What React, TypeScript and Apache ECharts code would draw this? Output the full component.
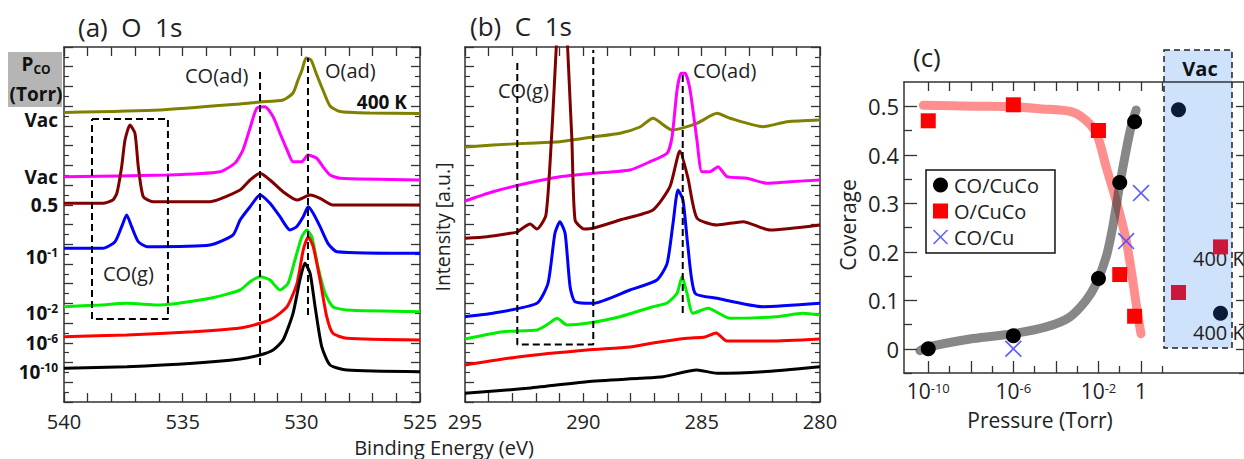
import React, { useEffect, useRef } from "react";
import * as echarts from "echarts";

const FONT = "'Open Sans', 'Noto Sans', sans-serif";

// ---------- (a) O 1s spectra: [binding energy (eV), intensity (a.u.)]
const o1sVac400K = [[540,289.5],[535.95,292],[532.58,298],[531.74,300],[530.77,302],[530.35,309],[530.14,322],[529.97,332],[529.8,344],[529.59,342],[529.38,329],[529.09,312],[528.79,296],[528.37,290.5],[527.11,289],[525,288.5]];
const o1sVac = [[540,225.3],[535.66,227],[533.43,230.3],[532.79,239],[532.46,252],[532.16,274],[531.88,293.7],[531.53,295.3],[531.19,285.3],[530.9,268.7],[530.6,252],[530.35,240.3],[529.98,240.3],[529.72,247],[529.35,243.7],[529.09,235.3],[528.79,227],[528.37,223.7],[525,222]];
const o1s0p5 = [[540,198.7],[538.36,198.7],[537.94,202],[537.77,209],[537.57,235.3],[537.43,262],[537.22,277],[537.01,268.7],[536.87,235.3],[536.66,205.3],[536.25,200.3],[533.85,200.3],[532.58,212],[532.16,222],[531.74,228.7],[531.32,222],[530.77,210.3],[530.18,202],[529.63,207],[529.21,203.7],[528.67,197],[525,197]];
const o1sE1 = [[540,153.7],[538.36,153.7],[537.85,160.3],[537.57,175.3],[537.36,187],[537.15,175.3],[536.87,160.3],[536.5,155.3],[533.85,157],[532.88,167],[532.58,182],[532.16,195.3],[531.74,207],[531.32,198.7],[530.9,185.3],[530.48,172],[530.2,175.3],[529.92,185.3],[529.71,195.3],[529.5,188.7],[529.21,175.3],[528.88,158.7],[528.5,150.3],[525,148.7]];
const o1sE2 = [[540,95.3],[538.48,97],[537.35,98.7],[535.95,97],[533.85,103.7],[532.58,112],[532.16,120.3],[531.74,125.3],[531.32,122],[530.9,112],[530.56,118.7],[530.27,142],[529.98,165.3],[529.77,172],[529.56,165.3],[529.3,135.3],[529,108.7],[528.67,95.3],[528.08,92],[525,90.3]];
const o1sE6 = [[540,65.3],[537.35,67],[534.56,70.3],[532.58,74],[531.74,78.7],[531.19,83.7],[530.6,95.3],[530.18,118.7],[529.92,152],[529.71,165.3],[529.5,155.3],[529.21,122],[528.93,85.3],[528.67,68.7],[528.08,63.7],[525,62]];
const o1sE10 = [[540,33.7],[537.35,35.3],[534.56,38.7],[532.58,43],[531.74,47],[531.19,52],[530.77,62],[530.35,88.7],[530.06,122],[529.85,138.7],[529.63,128.7],[529.42,95.3],[529.14,55.3],[528.79,37],[528.08,32],[525,30.3]];

// ---------- (b) C 1s spectra
const c1sVac400K = [[295,255],[293.82,257],[292.38,258.7],[290.99,260.3],[289.59,265],[288.45,268.7],[287.61,275],[287.06,283.7],[286.25,272],[285.2,278.7],[284.35,288.7],[283.8,283.7],[282.41,275.3],[281.39,280.3],[280,282]];
const c1sVac = [[295,201],[293.82,210.3],[292.38,218.7],[290.99,225.3],[289.59,228.7],[288.03,232],[287.18,240.3],[286.46,248.7],[286.25,265.3],[286.04,312],[285.87,328.7],[285.7,328.7],[285.49,312],[285.2,262],[284.99,230.3],[284.65,230.3],[284.31,235.3],[283.93,225.3],[283.08,223.7],[282.24,218.7],[281.27,220.3],[280,222]];
const c1s0p5 = [[295,163.7],[294.07,165.3],[293.1,168.7],[292.8,170],[292.25,178],[291.96,173],[291.58,187],[291.34,266],[290.9,442],[290.49,266],[290.35,182],[289.97,173],[289.59,173.7],[288.45,182],[287.06,192],[286.34,215.3],[285.92,251],[285.58,224],[285.2,184],[284.35,177],[283.25,180.3],[282.11,172],[280,177]];
const c1sE1 = [[295,85.3],[293.82,88.7],[291.96,98.7],[291.49,119],[291.2,168.7],[290.99,180.3],[290.77,168.7],[290.56,115.3],[290.35,100.3],[289.59,98.7],[288.03,112],[286.89,122],[286.46,138.7],[286.21,178.7],[286,212],[285.79,202],[285.58,155.3],[285.28,108.7],[284.35,103.7],[282.41,95.3],[280,98.7]];
const c1sE2 = [[295,63],[293.39,70.3],[291.96,72],[291.49,78],[291.11,83.7],[290.69,77],[289.85,78.7],[288.45,85.3],[287.06,95.3],[286.46,99],[286.04,108.7],[285.83,125.3],[285.62,108.7],[285.37,88.7],[284.73,93.7],[283.8,83.7],[281.82,85.3],[280.72,88.7],[280,87]];
const c1sE6 = [[295,37],[292.68,45.3],[289.85,52],[288.03,55],[287.06,59],[285.62,63.7],[284.86,65],[284.39,69],[283.93,61],[282.11,61],[280,63]];
const c1sE10 = [[295,8.7],[292.38,13.7],[289.85,20.3],[287.61,23.7],[286.63,25.3],[285.2,32],[284.35,28.7],[282.41,30.3],[280,35.3]];

const spectraColors = ["#808000", "#ff00ff", "#800000", "#0000ff", "#00ee00", "#ff0000", "#000000"];
const pressureLabels = ["Vac", "Vac", "0.5", "10^-1", "10^-2", "10^-6", "10^-10"];

// dashed guide lines (data coordinates)
const o1sCOadLine = [[531.74,37],[531.74,332]];
const o1sOadLine = [[529.72,87],[529.72,344]];
const o1sCOgBox = [[538.82,283],[535.62,283],[535.62,83],[538.82,83],[538.82,283]];
const c1sCOgBox = [[292.79,339],[292.79,57.5],[289.58,57.5],[289.58,352]];
const c1sCOadLine = [[285.8,89],[285.8,329]];

// ---------- (c) coverage vs pressure
const pressureTorr = [1e-10, 1e-6, 1e-2, 0.1, 0.5];
const coOnCuCo = [0.0, 0.027, 0.145, 0.343, 0.468];
const oOnCuCo = [0.47, 0.503, 0.45, 0.153, 0.067];
const coCuPressure = [1e-6, 0.2, 1];
const coOnCu = [0.0, 0.222, 0.321];
const coFitLogP = [-10.39,-10.07,-7.89,-6.02,-4.45,-3.36,-2.58,-2.11,-1.64,-1.33,-1.02,-0.7,-0.47,-0.23];
const coFit = [-0.004,0.003,0.021,0.031,0.045,0.065,0.1,0.134,0.189,0.251,0.333,0.409,0.457,0.492];
const oFitLogP = [-10.23,-7.89,-6.02,-4.77,-3.21,-2.42,-2.03,-1.64,-1.17,-0.7,-0.39,-0.16,0];
const oFit = [0.502,0.5,0.499,0.495,0.488,0.464,0.437,0.375,0.306,0.224,0.141,0.072,0.031];
const vacConditions = ["Vac", "Vac 400 K"];
const vacCO = [0.493, 0.073];
const vacO = [0.116, 0.21];
const coverageTicks = [0, 0.1, 0.2, 0.3, 0.4, 0.5];
const coverageMinorTicks = [-0.05, 0.05, 0.15, 0.25, 0.35, 0.45];
const logTicksMajor = [-10, -8, -6, -4, -2, 0];
const logTicksMinor = [-9, -7, -5, -3, -1, 1];
const logTickLabels = [-10, -6, -2, 0];

const X_SYMBOL = "path://M0,0.7L0.7,0L5,4.3L9.3,0L10,0.7L5.7,5L10,9.3L9.3,10L5,5.7L0.7,10L0,9.3L4.3,5Z";
const AXIS_COLOR = "#333";
const SPEC_MAX = 355;
const SPEC_INT = SPEC_MAX / 18;

function specLabelRich(s: string) {
  const i = s.indexOf("^");
  return i < 0 ? `{b|${s}}` : `{b|${s.slice(0, i)}}{s|${s.slice(i + 1)}}`;
}

export default function App() {
  const ref = useRef<HTMLDivElement>(null);
  useEffect(() => {
    if (!ref.current) return;
    const chart = echarts.init(ref.current, undefined, { renderer: "svg" });

    const specX = (grid: number, min: number, max: number, pos: "top" | "bottom", labels: boolean) => ({
      type: "value", gridIndex: grid, min, max, inverse: true, interval: 1, position: pos,
      axisLine: { onZero: false, lineStyle: { color: AXIS_COLOR, width: 1.5 } },
      axisTick: { inside: true, length: 9, lineStyle: { color: AXIS_COLOR, width: 1.3 } },
      axisLabel: labels ? {
        show: true, margin: 9, fontSize: 20, lineHeight: 20, fontFamily: FONT, color: "#222",
        formatter: (v: number) => (Math.round(v) % 5 === 0 ? String(Math.round(v)) : ""),
      } : { show: false },
      splitLine: { show: false },
    });
    const specY = (grid: number, pos: "left" | "right") => ({
      type: "value", gridIndex: grid, min: 0, max: SPEC_MAX, interval: SPEC_INT, position: pos,
      axisLine: { show: true, onZero: false, lineStyle: { color: AXIS_COLOR, width: 1.5 } },
      axisTick: { show: true, inside: true, length: 9, lineStyle: { color: AXIS_COLOR, width: 1.3 } },
      minorTick: { show: true, splitNumber: 2, length: 5, lineStyle: { color: AXIS_COLOR, width: 1.2 } },
      axisLabel: { show: false },
      splitLine: { show: false },
      minorSplitLine: { show: false },
    });
    const covXBase = { type: "value", gridIndex: 2, min: -11.14, max: 4.84, splitLine: { show: false } };
    const covYBase = { type: "value", gridIndex: 2, min: -0.05, max: 0.55, splitLine: { show: false } };

    const o1s = [o1sVac400K, o1sVac, o1s0p5, o1sE1, o1sE2, o1sE6, o1sE10];
    const c1s = [c1sVac400K, c1sVac, c1s0p5, c1sE1, c1sE2, c1sE6, c1sE10];
    const specSeries: any[] = [];
    o1s.forEach((d, i) => specSeries.push({
      type: "line", name: "O1s " + pressureLabels[i] + i, xAxisIndex: 0, yAxisIndex: 0, data: d,
      showSymbol: false, smooth: 0.2, lineStyle: { color: spectraColors[i], width: 3 }, silent: true,
    }));
    c1s.forEach((d, i) => specSeries.push({
      type: "line", name: "C1s " + pressureLabels[i] + i, xAxisIndex: 2, yAxisIndex: 2, data: d,
      showSymbol: false, smooth: 0.2, clip: true, lineStyle: { color: spectraColors[i], width: 3 }, silent: true,
    }));
    const dashed = (data: number[][], xi: number, yi: number) => ({
      type: "line", xAxisIndex: xi, yAxisIndex: yi, data, showSymbol: false, silent: true, z: 5,
      lineStyle: { color: "#000", width: 2, type: [7, 4] },
    });

    const pressureYs = [120, 177, 205, 257, 313, 343, 372];

    const option: any = {
      animation: false,
      backgroundColor: "#fff",
      textStyle: { fontFamily: FONT },
      grid: [
        { left: 64, top: 47, width: 356, height: 355 },
        { left: 465, top: 47, width: 355, height: 355 },
        { left: 904, top: 82, width: 341, height: 291 },
        { left: 1157.5, top: 82, width: 84, height: 291 },
      ],
      xAxis: [
        specX(0, 525, 540, "bottom", true),
        specX(0, 525, 540, "top", false),
        specX(1, 280, 295, "bottom", true),
        specX(1, 280, 295, "top", false),
        {
          ...covXBase, position: "bottom",
          axisLine: { onZero: false, lineStyle: { color: AXIS_COLOR, width: 1.5 } },
          axisTick: { inside: true, length: 12, customValues: logTicksMajor, lineStyle: { color: AXIS_COLOR, width: 1.3 } },
          axisLabel: {
            show: true, margin: 8, customValues: logTickLabels, color: "#222", fontFamily: FONT,
            formatter: (v: number) => (Math.round(v) === 0 ? "{n|1}" : `{n|10}{s|${Math.round(v)}}`),
            rich: {
              n: { fontSize: 21, fontFamily: FONT, color: "#222", lineHeight: 20 },
              s: { fontSize: 13, fontFamily: FONT, color: "#222", verticalAlign: "top", lineHeight: 12 },
            },
          },
        },
        {
          ...covXBase, position: "bottom",
          axisLine: { show: false, onZero: false },
          axisTick: { inside: true, length: 7, customValues: logTicksMinor, lineStyle: { color: AXIS_COLOR, width: 1.3 } },
          axisLabel: { show: false },
        },
        {
          ...covXBase, position: "top",
          axisLine: { onZero: false, lineStyle: { color: AXIS_COLOR, width: 1.5 } },
          axisTick: { inside: true, length: 9, customValues: [...logTicksMajor, ...logTicksMinor], lineStyle: { color: AXIS_COLOR, width: 1.3 } },
          axisLabel: { show: false },
        },
        { type: "category", gridIndex: 3, data: vacConditions, show: false },
      ],
      yAxis: [
        specY(0, "left"), specY(0, "right"), specY(1, "left"), specY(1, "right"),
        {
          ...covYBase, position: "left",
          axisLine: { onZero: false, lineStyle: { color: AXIS_COLOR, width: 1.5 } },
          axisTick: { inside: true, length: 13, customValues: coverageTicks, lineStyle: { color: AXIS_COLOR, width: 1.3 } },
          axisLabel: {
            show: true, margin: 5, customValues: coverageTicks, fontSize: 22, fontFamily: FONT, color: "#222",
            formatter: (v: number) => (Math.abs(v) < 1e-9 ? "0" : String(Math.round(v * 10) / 10)),
          },
        },
        {
          ...covYBase, position: "left",
          axisLine: { show: false, onZero: false },
          axisTick: { inside: true, length: 8, customValues: coverageMinorTicks, lineStyle: { color: AXIS_COLOR, width: 1.3 } },
          axisLabel: { show: false },
        },
        {
          ...covYBase, position: "right",
          axisLine: { onZero: false, lineStyle: { color: AXIS_COLOR, width: 1.5 } },
          axisTick: { inside: true, length: 8, customValues: coverageTicks, lineStyle: { color: AXIS_COLOR, width: 1.3 } },
          axisLabel: { show: false },
        },
        {
          ...covYBase, position: "right",
          axisLine: { show: false, onZero: false },
          axisTick: { inside: true, length: 5, customValues: coverageMinorTicks, lineStyle: { color: AXIS_COLOR, width: 1.3 } },
          axisLabel: { show: false },
        },
        { type: "value", gridIndex: 3, min: -0.05, max: 0.55, show: false },
      ],
      legend: {
        data: [{ name: "CO/CuCo" }, { name: "O/CuCo" }, { name: "CO/Cu" }],
        orient: "vertical", left: 926, top: 170,
        borderColor: "#111", borderWidth: 1.5, borderRadius: 0,
        padding: [5, 16, 6, 7], itemGap: 6, itemWidth: 15, itemHeight: 15,
        textStyle: { fontSize: 20, fontFamily: FONT, color: "#222", padding: [0, 0, 0, 1] },
        selectedMode: false,
      },
      series: [
        ...specSeries,
        dashed(o1sCOadLine, 0, 0), dashed(o1sOadLine, 0, 0), dashed(o1sCOgBox, 0, 0),
        dashed(c1sCOgBox, 2, 2), dashed(c1sCOadLine, 2, 2),
        {
          type: "line", name: "O fit", xAxisIndex: 4, yAxisIndex: 4, showSymbol: false, silent: true, smooth: 0.3,
          data: oFitLogP.map((x, i) => [x, oFit[i]]),
          lineStyle: { color: "rgba(255,50,50,0.55)", width: 9, cap: "round" }, z: 2,
        },
        {
          type: "line", name: "CO fit", xAxisIndex: 4, yAxisIndex: 4, showSymbol: false, silent: true, smooth: 0.3,
          data: coFitLogP.map((x, i) => [x, coFit[i]]),
          lineStyle: { color: "rgba(55,55,55,0.6)", width: 9, cap: "round" }, z: 2,
        },
        {
          type: "scatter", name: "CO/CuCo", xAxisIndex: 4, yAxisIndex: 4, symbol: "circle", symbolSize: 15,
          data: pressureTorr.map((p, i) => [Math.log10(p), coOnCuCo[i]]), itemStyle: { color: "#000", opacity: 1 }, z: 4,
        },
        {
          type: "scatter", name: "O/CuCo", xAxisIndex: 4, yAxisIndex: 4, symbol: "rect", symbolSize: 15,
          data: pressureTorr.map((p, i) => [Math.log10(p), oOnCuCo[i]]), itemStyle: { color: "#ff0000", opacity: 1 }, z: 4,
        },
        {
          type: "scatter", name: "CO/Cu", xAxisIndex: 4, yAxisIndex: 4, symbol: X_SYMBOL, symbolSize: 17,
          data: coCuPressure.map((p, i) => [Math.log10(p), coOnCu[i]]), itemStyle: { color: "#4d4dff", opacity: 0.9 }, z: 4,
        },
        {
          type: "scatter", name: "CO/CuCo vac", xAxisIndex: 7, yAxisIndex: 8, symbol: "circle", symbolSize: 15,
          data: vacCO, itemStyle: { color: "#0b1a36", opacity: 1 }, z: 4,
        },
        {
          type: "scatter", name: "O/CuCo vac", xAxisIndex: 7, yAxisIndex: 8, symbol: "rect", symbolSize: 15,
          data: vacO, itemStyle: { color: "#c8193c", opacity: 1 }, z: 4,
        },
      ],
      graphic: [
        {
          type: "rect", z: -1, shape: { x: 1164, y: 50, width: 68, height: 298 },
          style: { fill: "#cfe2fc", stroke: "#222", lineWidth: 1.5, lineDash: [6, 4] },
        },
        { type: "text", x: 1200, y: 68, style: { text: "Vac", fontSize: 20, fontWeight: "bold", fontFamily: FONT, fill: "#111", align: "center", verticalAlign: "middle" } },
        { type: "text", x: 1193, y: 258, style: { text: "400 K", fontSize: 20, fontFamily: FONT, fill: "#222", align: "left", verticalAlign: "middle" } },
        { type: "text", x: 1193, y: 332, style: { text: "400 K", fontSize: 20, fontFamily: FONT, fill: "#222", align: "left", verticalAlign: "middle" } },
        { type: "text", x: 78, y: 27, style: { text: "(a)  O  1s", fontSize: 26, fontFamily: FONT, fill: "#222", align: "left", verticalAlign: "middle" } },
        { type: "text", x: 470, y: 26, style: { text: "(b)  C  1s", fontSize: 26, fontFamily: FONT, fill: "#222", align: "left", verticalAlign: "middle" } },
        { type: "text", x: 913, y: 57, style: { text: "(c)", fontSize: 26, fontFamily: FONT, fill: "#222", align: "left", verticalAlign: "middle" } },
        { type: "rect", shape: { x: 8, y: 52, width: 54, height: 55 }, style: { fill: "#b5b5b5" } },
        {
          type: "text", x: 36, y: 64,
          style: {
            text: "{p|P}{s|CO}", align: "center", verticalAlign: "middle",
            rich: {
              p: { fontSize: 19, fontWeight: "bold", fontFamily: FONT, fill: "#111", lineHeight: 22 },
              s: { fontSize: 12, fontWeight: "bold", fontFamily: FONT, fill: "#111", verticalAlign: "bottom", lineHeight: 12 },
            },
          },
        },
        { type: "text", x: 36, y: 94, style: { text: "(Torr)", fontSize: 19, fontWeight: "bold", fontFamily: FONT, fill: "#111", align: "center", verticalAlign: "middle" } },
        ...pressureLabels.map((s, i) => ({
          type: "text", x: 58, y: pressureYs[i],
          style: {
            text: specLabelRich(s), align: "right", verticalAlign: "middle",
            rich: {
              b: { fontSize: 19, fontWeight: "bold", fontFamily: FONT, fill: "#111", lineHeight: 22 },
              s: { fontSize: 12, fontWeight: "bold", fontFamily: FONT, fill: "#111", verticalAlign: "top", lineHeight: 12 },
            },
          },
        })),
        { type: "text", x: 407, y: 102, style: { text: "400 K", fontSize: 19, fontWeight: "bold", fontFamily: FONT, fill: "#111", align: "right", verticalAlign: "middle" } },
        { type: "text", x: 185, y: 75, style: { text: "CO(ad)", fontSize: 20, fontFamily: FONT, fill: "#222", align: "left", verticalAlign: "middle" } },
        { type: "text", x: 325, y: 70, style: { text: "O(ad)", fontSize: 20, fontFamily: FONT, fill: "#222", align: "left", verticalAlign: "middle" } },
        { type: "text", x: 103, y: 273, style: { text: "CO(g)", fontSize: 20, fontFamily: FONT, fill: "#222", align: "left", verticalAlign: "middle" } },
        { type: "text", x: 498, y: 90, style: { text: "CO(g)", fontSize: 20, fontFamily: FONT, fill: "#222", align: "left", verticalAlign: "middle" } },
        { type: "text", x: 693, y: 70, style: { text: "CO(ad)", fontSize: 20, fontFamily: FONT, fill: "#222", align: "left", verticalAlign: "middle" } },
        { type: "text", x: 444, y: 447, style: { text: "Binding Energy (eV)", fontSize: 20, lineHeight: 20, fontFamily: FONT, fill: "#222", align: "center", verticalAlign: "middle" } },
        { type: "text", x: 442, y: 227, rotation: Math.PI / 2, style: { text: "Intensity [a.u.]", fontSize: 19.5, fontFamily: FONT, fill: "#222", align: "center", verticalAlign: "middle" } },
        { type: "text", x: 848, y: 225, rotation: Math.PI / 2, style: { text: "Coverage", fontSize: 21, fontFamily: FONT, fill: "#222", align: "center", verticalAlign: "middle" } },
        { type: "text", x: 1040, y: 420, style: { text: "Pressure (Torr)", fontSize: 21, lineHeight: 21, fontFamily: FONT, fill: "#222", align: "center", verticalAlign: "middle" } },
      ],
    };
    chart.setOption(option);
    return () => chart.dispose();
  }, []);
  return <div ref={ref} style={{ position: "fixed", left: 0, top: 0, width: 1244, height: 459, background: "#fff" }} />;
}
